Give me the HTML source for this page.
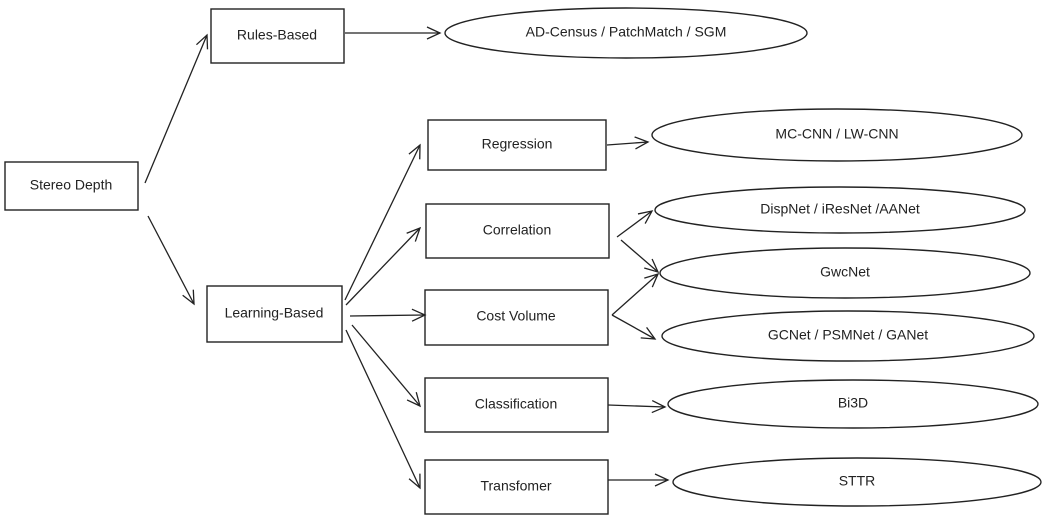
<!DOCTYPE html>
<html><head><meta charset="utf-8"><style>
html,body{margin:0;padding:0;background:#fff;width:1060px;height:523px;overflow:hidden}
text{font-family:"Liberation Sans",sans-serif;font-size:14px;fill:#222;text-anchor:middle;dominant-baseline:middle}
</style></head><body>
<svg width="1060" height="523" viewBox="0 0 1060 523" xmlns="http://www.w3.org/2000/svg">
<defs><marker id="a" markerWidth="16" markerHeight="14" refX="14" refY="7" orient="auto" markerUnits="userSpaceOnUse"><path d="M1,1 L14,7 L1,13" fill="none" stroke="#222" stroke-width="1.3"/></marker></defs>
<g fill="none" stroke="#222" stroke-width="1.4">
<rect x="5" y="162" width="133" height="48"/>
<rect x="211" y="9" width="133" height="54"/>
<rect x="207" y="286" width="135" height="56"/>
<rect x="428" y="120" width="178" height="50"/>
<rect x="426" y="204" width="183" height="54"/>
<rect x="425" y="290" width="183" height="55"/>
<rect x="425" y="378" width="183" height="54"/>
<rect x="425" y="460" width="183" height="54"/>
<ellipse cx="626" cy="33" rx="181" ry="25"/>
<ellipse cx="837" cy="135" rx="185" ry="26"/>
<ellipse cx="840" cy="210" rx="185" ry="23"/>
<ellipse cx="845" cy="273" rx="185" ry="25"/>
<ellipse cx="848" cy="336" rx="186" ry="25"/>
<ellipse cx="853" cy="404" rx="185" ry="24"/>
<ellipse cx="857" cy="482" rx="184" ry="24"/>
</g>
<g fill="none" stroke="#222" stroke-width="1.3" marker-end="url(#a)">
<line x1="145" y1="183" x2="207" y2="35"/>
<line x1="148" y1="216" x2="194" y2="304"/>
<line x1="345" y1="33" x2="440" y2="33"/>
<line x1="345" y1="300" x2="420" y2="145"/>
<line x1="346" y1="305" x2="420" y2="228"/>
<line x1="350" y1="316" x2="425" y2="315"/>
<line x1="352" y1="325" x2="420" y2="406"/>
<line x1="346" y1="330" x2="420" y2="488"/>
<line x1="607" y1="145" x2="648" y2="142"/>
<line x1="617" y1="237" x2="652" y2="211"/>
<line x1="621" y1="240" x2="658" y2="272"/>
<line x1="612" y1="315" x2="658" y2="274"/>
<line x1="612" y1="315" x2="655" y2="339"/>
<line x1="608" y1="405" x2="665" y2="407"/>
<line x1="608" y1="480" x2="668" y2="480"/>
</g>
<text x="71" y="186">Stereo Depth</text>
<text x="277" y="36">Rules-Based</text>
<text x="274" y="314">Learning-Based</text>
<text x="517" y="145">Regression</text>
<text x="517" y="231">Correlation</text>
<text x="516" y="317">Cost Volume</text>
<text x="516" y="405">Classification</text>
<text x="516" y="487">Transfomer</text>
<text x="626" y="33">AD-Census / PatchMatch / SGM</text>
<text x="837" y="135">MC-CNN / LW-CNN</text>
<text x="840" y="210">DispNet / iResNet /AANet</text>
<text x="845" y="273">GwcNet</text>
<text x="848" y="336">GCNet / PSMNet / GANet</text>
<text x="853" y="404">Bi3D</text>
<text x="857" y="482">STTR</text>
</svg>
</body></html>
